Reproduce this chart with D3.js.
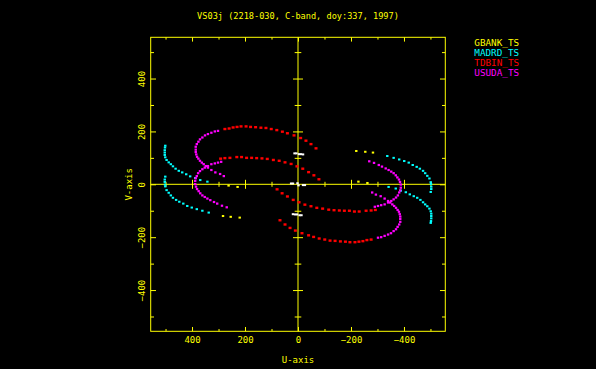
<!DOCTYPE html>
<html>
<head>
<meta charset="utf-8">
<script src="https://cdn.jsdelivr.net/npm/d3@7"></script>
<style>
  body { margin: 0; background: #000; }
  svg text { font-family: "DejaVu Sans Mono", monospace; fill: #ffff00; }
</style>
</head>
<body>
<script>
// ---- data (u, v in the plot's units) ----
const title = "VS03j (2218-030, C-band, doy:337, 1997)";
const axisLimit = 556;
const majorTicks = [-400, -200, 0, 200, 400];
const minorTicks = [-500, -300, -100, 100, 300, 500];
const legendNames = ["GBANK_TS", "MADRD_TS", "TDBIN_TS", "USUDA_TS"];
const legendColors = ["#ffff00", "#00ffff", "#ff0000", "#ff00ff"];

// GBANK_TS (yellow)
const gbank = [[283,-120],[254,-123],[220,-126],[262,-5],[228,-10],
  [-283,120],[-254,123],[-220,126],[-262,5],[-228,10]];

// MADRD_TS (cyan), two arcs and their mirror images
const madrdA = [[501,146],[502,139],[503,129],[503,120],[503,111],[501,102],[496,92],[488,83],[480,76],
  [472,68],[462,59],[450,51],[437,45],[422,38],[407,30],[388,24],[369,16],[342,10]];
const madrdAm = [[-501,-146],[-502,-139],[-503,-129],[-503,-120],[-503,-111],[-501,-102],[-496,-92],[-488,-83],[-480,-76],
  [-472,-68],[-462,-59],[-450,-51],[-437,-45],[-422,-38],[-407,-30],[-388,-24],[-369,-16],[-342,-10]];
const madrdB = [[501,29],[503,18],[503,9],[502,-1],[501,-8],[496,-22],[488,-32],[480,-42],[472,-51],
  [460,-59],[448,-66],[433,-73],[418,-82],[401,-88],[382,-94],[361,-100],[337,-107]];
const madrdBm = [[-501,-29],[-503,-18],[-503,-9],[-502,1],[-501,8],[-496,22],[-488,32],[-480,42],[-472,51],
  [-460,59],[-448,66],[-433,73],[-418,82],[-401,88],[-382,94],[-361,100],[-337,107]];

// TDBIN_TS (red)
const tdbinA = [[276,209],[260,211],[245,215],[230,217],[215,219],[196,219],[179,217],[160,216],[140,214],[121,213],
  [101,209],[80,205],[59,199],[40,193],[15,185],[-10,175],[-30,165],[-49,152],[-68,136]];
const tdbinAm = [[-276,-209],[-260,-211],[-245,-215],[-230,-217],[-215,-219],[-196,-219],[-179,-217],[-160,-216],[-140,-214],[-121,-213],
  [-101,-209],[-80,-205],[-59,-199],[-40,-193],[-15,-185],[10,-175],[30,-165],[49,-152],[68,-136]];
const tdbinB = [[292,97],[276,99],[257,100],[231,103],[213,103],[194,100],[175,100],[156,99],[136,98],[116,96],
  [93,92],[71,89],[49,83],[26,77],[4,68],[-18,59],[-40,46],[-60,34],[-79,19]];
const tdbinBm = [[-292,-97],[-276,-99],[-257,-100],[-231,-103],[-213,-103],[-194,-100],[-175,-100],[-156,-99],[-136,-98],[-116,-96],
  [-93,-92],[-71,-89],[-49,-83],[-26,-77],[-4,-68],[18,-59],[40,-46],[60,-34],[79,-19]];

// USUDA_TS (magenta)
const usudaA = [[302,202],[314,200],[327,195],[340,190],[351,185],[361,177],[370,170],[376,161],[382,152],[386,142],
  [386,131],[386,122],[384,113],[381,104],[376,97],[370,89],[363,82],[356,76],[348,69],[340,63],[327,54],[312,45],[294,39],[280,31]];
const usudaAm = [[-302,-202],[-314,-200],[-327,-195],[-340,-190],[-351,-185],[-361,-177],[-370,-170],[-376,-161],[-382,-152],[-386,-142],
  [-386,-131],[-386,-122],[-384,-113],[-381,-104],[-376,-97],[-370,-89],[-363,-82],[-356,-76],[-348,-69],[-340,-63],[-327,-54],[-312,-45],[-294,-39],[-280,-31]];
const usudaB = [[290,85],[302,82],[314,79],[327,76],[340,69],[352,63],[361,57],[370,50],[377,42],[382,31],[386,23],[388,13],
  [388,1],[385,-9],[381,-18],[375,-26],[369,-34],[361,-42],[352,-48],[342,-54],[331,-60],[317,-67],[305,-73],[287,-81],[269,-87]];
const usudaBm = [[-290,-85],[-302,-82],[-314,-79],[-327,-76],[-340,-69],[-352,-63],[-361,-57],[-370,-50],[-377,-42],[-382,-31],[-386,-23],[-388,-13],
  [-388,-1],[-385,9],[-381,18],[-375,26],[-369,34],[-361,42],[-352,48],[-342,54],[-331,60],[-317,67],[-305,73],[-287,81],[-269,87]];

// short baselines near the centre (white, not in legend)
const shortBase = [[13,117],[6,117],[-4,114],[-11,114],[-19,113],
  [-13,-117],[-6,-117],[4,-114],[11,-114],[19,-113],
  [26,3],[19,3],[2,4],[-2,-4],[-19,-3],[-26,-3]];

const series = [
  { color: "#ffffff", pts: shortBase, w: 2.4, h: 2 },
  { color: legendColors[0], pts: gbank, w: 2.4, h: 2 },
  { color: legendColors[1], pts: madrdA.concat(madrdAm, madrdB, madrdBm), w: 2.4, h: 2 },
  { color: legendColors[2], pts: tdbinA.concat(tdbinAm, tdbinB, tdbinBm), w: 3, h: 2.4 },
  { color: legendColors[3], pts: usudaA.concat(usudaAm, usudaB, usudaBm), w: 2.4, h: 2.2 }
];

// ---- layout ----
const W = 596, H = 369;
const pLeft = 150.7, pRight = 445.3, pTop = 37.3, pBottom = 331.3;

const svg = d3.select("body").append("svg")
  .attr("width", W).attr("height", H)
  .style("background-color", "#000");

const x = d3.scaleLinear().domain([axisLimit, -axisLimit]).range([pLeft, pRight]);
const y = d3.scaleLinear().domain([axisLimit, -axisLimit]).range([pTop, pBottom]);
const fmt = d3.format("d");

function clean(g) {
  g.select(".domain").remove();
  g.selectAll(".tick line").attr("stroke", "#ffff00");
}

// frame
svg.append("rect")
  .attr("x", pLeft).attr("y", pTop)
  .attr("width", pRight - pLeft).attr("height", pBottom - pTop)
  .attr("fill", "none").attr("stroke", "#ffff00").attr("stroke-width", 1);

// bottom edge with labels
svg.append("g").attr("transform", `translate(0,${pBottom})`)
  .call(d3.axisBottom(x).tickValues(majorTicks).tickSize(-4.3).tickFormat(fmt))
  .call(clean)
  .call(g => g.selectAll("text").attr("y", 12).attr("dy", null)
    .attr("font-size", 9).attr("font-family", "DejaVu Sans Mono").attr("fill", "#ffff00"));
svg.append("g").attr("transform", `translate(0,${pBottom})`)
  .call(d3.axisBottom(x).tickValues(minorTicks).tickSize(-2.3).tickFormat(""))
  .call(clean);

// top edge
svg.append("g").attr("transform", `translate(0,${pTop})`)
  .call(d3.axisTop(x).tickValues(majorTicks).tickSize(-4.3).tickFormat(""))
  .call(clean);
svg.append("g").attr("transform", `translate(0,${pTop})`)
  .call(d3.axisTop(x).tickValues(minorTicks).tickSize(-2.3).tickFormat(""))
  .call(clean);

// left edge with rotated labels
svg.append("g").attr("transform", `translate(${pLeft},0)`)
  .call(d3.axisLeft(y).tickValues(majorTicks).tickSize(-5.3).tickFormat(fmt))
  .call(clean)
  .call(g => g.selectAll("text")
    .attr("x", null).attr("dy", null)
    .attr("transform", "translate(-5.8,0) rotate(-90)")
    .attr("text-anchor", "middle")
    .attr("font-size", 9).attr("font-family", "DejaVu Sans Mono").attr("fill", "#ffff00"));
svg.append("g").attr("transform", `translate(${pLeft},0)`)
  .call(d3.axisLeft(y).tickValues(minorTicks).tickSize(-3.3).tickFormat(""))
  .call(clean);

// right edge
svg.append("g").attr("transform", `translate(${pRight},0)`)
  .call(d3.axisRight(y).tickValues(majorTicks).tickSize(-5.3).tickFormat(""))
  .call(clean);
svg.append("g").attr("transform", `translate(${pRight},0)`)
  .call(d3.axisRight(y).tickValues(minorTicks).tickSize(-3.3).tickFormat(""))
  .call(clean);

// zero lines through the origin
const zeroTicks = majorTicks.filter(d => d !== 0);
svg.append("line")
  .attr("x1", x(axisLimit)).attr("x2", x(-axisLimit))
  .attr("y1", y(0)).attr("y2", y(0)).attr("stroke", "#ffff00");
svg.append("line")
  .attr("x1", x(0)).attr("x2", x(0))
  .attr("y1", y(axisLimit)).attr("y2", y(-axisLimit)).attr("stroke", "#ffff00");
svg.append("g").attr("transform", `translate(0,${y(0) - 4.5})`)
  .call(d3.axisBottom(x).tickValues(zeroTicks).tickSize(9).tickFormat(""))
  .call(clean);
svg.append("g").attr("transform", `translate(0,${y(0) - 2.5})`)
  .call(d3.axisBottom(x).tickValues(minorTicks).tickSize(5).tickFormat(""))
  .call(clean);
svg.append("g").attr("transform", `translate(${x(0) - 5},0)`)
  .call(d3.axisRight(y).tickValues(zeroTicks).tickSize(10).tickFormat(""))
  .call(clean);
svg.append("g").attr("transform", `translate(${x(0) - 3.3},0)`)
  .call(d3.axisRight(y).tickValues(minorTicks).tickSize(6.6).tickFormat(""))
  .call(clean);

// uv points
series.forEach(function(s) {
  svg.append("g").selectAll("rect")
    .data(s.pts).enter()
    .append("rect")
    .attr("x", d => x(d[0]) - s.w / 2)
    .attr("y", d => y(d[1]) - s.h / 2)
    .attr("width", s.w)
    .attr("height", s.h)
    .attr("fill", s.color);
});

// titles
svg.append("text")
  .attr("x", (pLeft + pRight) / 2).attr("y", 19.3)
  .attr("text-anchor", "middle").attr("font-size", 8.6)
  .text(title);
svg.append("text")
  .attr("x", (pLeft + pRight) / 2).attr("y", 362.5)
  .attr("text-anchor", "middle").attr("font-size", 9)
  .text("U-axis");
svg.append("text")
  .attr("transform", `translate(131.7,${(pTop + pBottom) / 2}) rotate(-90)`)
  .attr("text-anchor", "middle").attr("font-size", 9)
  .text("V-axis");

// legend
svg.append("g").selectAll("text")
  .data(legendNames).enter()
  .append("text")
  .attr("x", 474.3)
  .attr("y", (d, i) => 45.7 + i * 10.2)
  .attr("font-size", 9.3)
  .style("fill", (d, i) => legendColors[i])
  .text(d => d);
</script>
</body>
</html>
